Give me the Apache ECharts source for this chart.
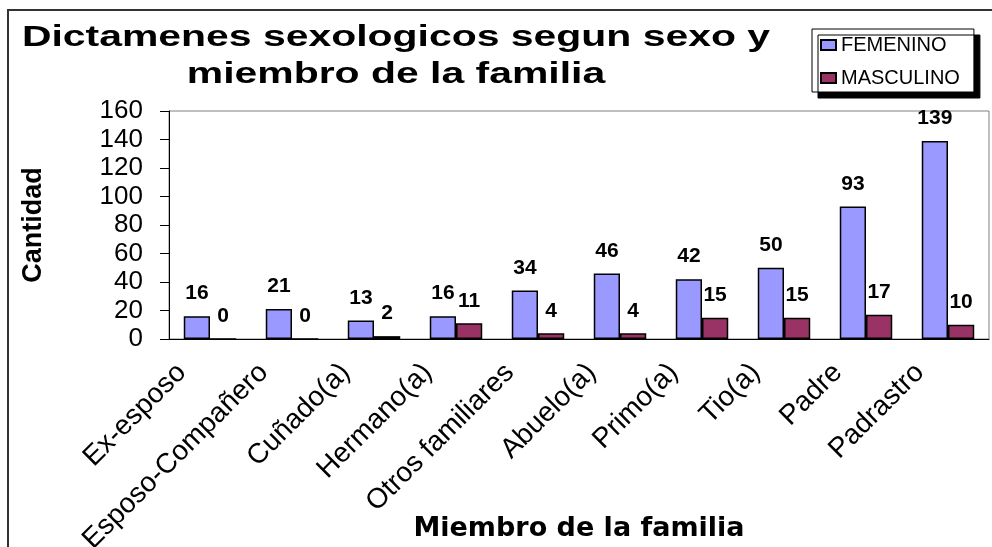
<!DOCTYPE html>
<html>
<head>
<meta charset="utf-8">
<script src="https://cdn.jsdelivr.net/npm/echarts@6/dist/echarts.min.js"></script>
<style>
  html, body { margin: 0; padding: 0; background: #fff; }
  #chart { width: 992px; height: 547px; }
</style>
</head>
<body>
<div id="chart"></div>
<script>
const categories = ['Ex-esposo', 'Esposo-Compañero', 'Cuñado(a)', 'Hermano(a)', 'Otros familiares',
                    'Abuelo(a)', 'Primo(a)', 'Tio(a)', 'Padre', 'Padrastro']
const femenino  = [16, 21, 13, 16, 34, 46, 42, 50, 93, 139]
const masculino = [0, 0, 2, 11, 4, 4, 15, 15, 17, 10]
const yTicks = { min: 0, max: 160, interval: 20 }

const titleText = 'Dictamenes sexologicos segun sexo y\nmiembro de la familia'
const arial = "'Liberation Sans', Arial, sans-serif"

const chart = echarts.init(document.getElementById('chart'), null, { renderer: 'canvas' })

const labelStyle = {
  show: true, position: 'top', distance: 12,
  color: '#000', fontSize: 21, fontWeight: 'bold', fontFamily: arial
}

chart.setOption({
  animation: false,
  backgroundColor: '#fff',
  graphic: [
    {
      type: 'rect', silent: true,
      shape: { x: 8, y: 10, width: 1010, height: 600 },
      style: { fill: 'none', stroke: '#333', lineWidth: 2 }
    },
    {
      type: 'text', silent: true,
      x: 396, y: 19, scaleX: 1.364,
      style: {
        text: titleText, fill: '#000',
        font: "bold 30px 'Liberation Sans', Arial, sans-serif",
        lineHeight: 37, textAlign: 'center', textVerticalAlign: 'top'
      }
    }
  ],
  legend: {
    orient: 'vertical',
    left: 812, top: 29,
    padding: [6, 14, 4, 8],
    icon: 'rect',
    itemGap: 13, itemWidth: 15, itemHeight: 10,
    backgroundColor: '#fff',
    borderColor: '#000', borderWidth: 1,
    shadowColor: '#000', shadowBlur: 0, shadowOffsetX: 6, shadowOffsetY: 6,
    textStyle: { color: '#000', fontSize: 20, fontFamily: arial },
    data: ['FEMENINO', 'MASCULINO']
  },
  grid: {
    left: 169, right: 3, top: 111, bottom: 208,
    show: true, borderColor: '#808080', borderWidth: 1,
    outerBoundsMode: 'none'
  },
  xAxis: {
    type: 'category',
    data: categories,
    name: 'Miembro de la familia',
    nameLocation: 'middle', nameGap: 176, nameMoveOverlap: false,
    nameTextStyle: { color: '#000', fontSize: 27, fontWeight: 'bold', fontFamily: "'DejaVu Sans', sans-serif" },
    axisLine: { lineStyle: { color: '#000', width: 1 } },
    axisTick: { show: false },
    axisLabel: {
      interval: 0, rotate: 45, margin: 1,
      padding: [0, 40, 0, 0],
      color: '#000', fontSize: 28, fontFamily: arial
    }
  },
  yAxis: {
    type: 'value',
    min: yTicks.min, max: yTicks.max, interval: yTicks.interval,
    name: 'Cantidad',
    nameLocation: 'middle', nameGap: 122, nameMoveOverlap: false,
    nameTextStyle: { color: '#000', fontSize: 27, fontWeight: 'bold', fontFamily: arial },
    axisLine: { show: true, lineStyle: { color: '#000', width: 1 } },
    axisTick: { show: true, inside: false, length: 9, lineStyle: { color: '#000' } },
    splitLine: { show: false },
    axisLabel: { margin: 26, color: '#000', fontSize: 26, fontFamily: arial }
  },
  series: [
    {
      name: 'FEMENINO', type: 'bar',
      data: femenino,
      barGap: '0%', barCategoryGap: '36%',
      itemStyle: { color: '#9999FF', borderColor: '#000', borderWidth: 1.5 },
      label: labelStyle
    },
    {
      name: 'MASCULINO', type: 'bar',
      data: masculino,
      itemStyle: { color: '#993366', borderColor: '#000', borderWidth: 1.5 },
      label: labelStyle
    }
  ]
})
</script>
</body>
</html>
